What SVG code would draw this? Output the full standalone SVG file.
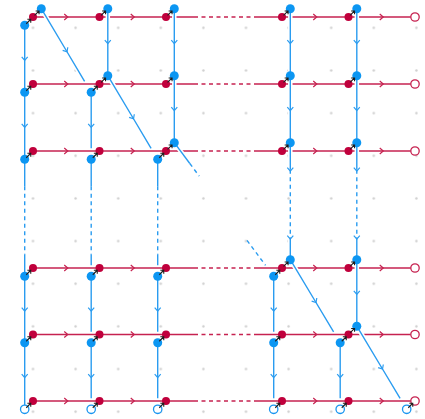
<svg xmlns="http://www.w3.org/2000/svg" xmlns:xlink="http://www.w3.org/1999/xlink" width="425" height="419" viewBox="0 0 425 419">
<style>
.rl{stroke:#c62250;stroke-width:1.4;fill:none}
.bl{stroke:#2a9cf0;stroke-width:1.4;fill:none}
.rm{marker-mid:url(#chr)}
.bm{marker-mid:url(#chb)}
.ds{stroke-dasharray:4 3.5}
.cas{stroke:#fff;stroke-width:4.5;fill:none;marker-mid:none}
.blu{stroke:#2a9cf0;stroke-width:1.4;fill:none;marker-mid:url(#chb)}
.rn{fill:#c0003c}
.bn{fill:#0c96f2}
.ro{fill:#fff;stroke:#c62250;stroke-width:1.3}
.bo{fill:#fff;stroke:#1a96f0;stroke-width:1.3}
.ar{stroke:#1e1e1e;stroke-width:1.1;fill:none}
</style>
<defs>
<pattern id="dots" patternUnits="userSpaceOnUse" x="11.7" y="6.5" width="42.6" height="42.65">
<circle cx="21.3" cy="21.3" r="1.2" fill="#cfcfcf"/>
</pattern>
<marker id="chr" markerUnits="userSpaceOnUse" orient="auto" overflow="visible" markerWidth="8" markerHeight="8">
<path d="M-2,-3 L1.5,0 L-2,3" fill="none" stroke="#c62250" stroke-width="1.2"/>
</marker>
<marker id="chb" markerUnits="userSpaceOnUse" orient="auto" overflow="visible" markerWidth="8" markerHeight="8">
<path d="M-2,-3 L1.5,0 L-2,3" fill="none" stroke="#2a9cf0" stroke-width="1.2"/>
</marker>
<path id="ar" d="M-2.6,2.6 L1.9,-1.9 M-1.5,-1.9 H1.9 V1.5"/>
<g id="urlines">
<polyline points="107.8,8.7 107.8,42.2 107.8,75.7"/>
<polyline points="174.3,8.7 174.3,42.2 174.3,75.7"/>
<polyline points="174.3,75.7 174.3,109.2 174.3,142.7"/>
<polyline points="290.3,8.7 290.3,42.2 290.3,75.7"/>
<polyline points="290.3,75.7 290.3,109.2 290.3,142.7"/>
<polyline points="356.8,8.7 356.8,42.2 356.8,75.7"/>
<polyline points="356.8,75.7 356.8,109.2 356.8,142.7"/>
<polyline points="356.8,259.7 356.8,292.95 356.8,326.2"/>
<polyline points="41.3,8.7 66.25,50.5 84.6,81.3"/>
<polyline points="107.8,75.7 132.75,117.5 151.1,148.3"/>
<polyline points="290.3,259.7 315.25,301.25 333.6,331.8"/>
<polyline points="356.8,326.2 381.75,367.75 400.1,398.3"/>
<path d="M174.3,142.7 L189.8,163.5"/>
<path d="M290.3,142.7 V169.7 M290.3,237.7 V259.7"/>
<path d="M356.8,142.7 V169.7 M356.8,237.7 V259.7"/>
</g>
</defs>
<rect x="0" y="0" width="425" height="419" fill="#fff"/>
<rect x="0" y="0" width="425" height="419" fill="url(#dots)"/>

<g id="connectors">
<g id="red-lines">
<polyline class="rl rm" points="33,17 66.25,17 99.5,17"/>
<polyline class="rl rm" points="99.5,17 132.75,17 166,17"/>
<path class="rl" d="M166,17 H194 M257,17 H282"/>
<path class="rl ds" d="M194,17 H257"/>
<polyline class="rl rm" points="282,17 315.25,17 348.5,17"/>
<polyline class="rl rm" points="348.5,17 381.75,17 410.8,17"/>

<polyline class="rl rm" points="33,84 66.25,84 99.5,84"/>
<polyline class="rl rm" points="99.5,84 132.75,84 166,84"/>
<path class="rl" d="M166,84 H194 M257,84 H282"/>
<path class="rl ds" d="M194,84 H257"/>
<polyline class="rl rm" points="282,84 315.25,84 348.5,84"/>
<polyline class="rl rm" points="348.5,84 381.75,84 410.8,84"/>

<polyline class="rl rm" points="33,151 66.25,151 99.5,151"/>
<polyline class="rl rm" points="99.5,151 132.75,151 166,151"/>
<path class="rl" d="M166,151 H194 M257,151 H282"/>
<path class="rl ds" d="M194,151 H257"/>
<polyline class="rl rm" points="282,151 315.25,151 348.5,151"/>
<polyline class="rl rm" points="348.5,151 381.75,151 410.8,151"/>

<polyline class="rl rm" points="33,268 66.25,268 99.5,268"/>
<polyline class="rl rm" points="99.5,268 132.75,268 166,268"/>
<path class="rl" d="M166,268 H194 M257,268 H282"/>
<path class="rl ds" d="M194,268 H257"/>
<polyline class="rl rm" points="282,268 315.25,268 348.5,268"/>
<polyline class="rl rm" points="348.5,268 381.75,268 410.8,268"/>

<polyline class="rl rm" points="33,334.5 66.25,334.5 99.5,334.5"/>
<polyline class="rl rm" points="99.5,334.5 132.75,334.5 166,334.5"/>
<path class="rl" d="M166,334.5 H194 M257,334.5 H282"/>
<path class="rl ds" d="M194,334.5 H257"/>
<polyline class="rl rm" points="282,334.5 315.25,334.5 348.5,334.5"/>
<polyline class="rl rm" points="348.5,334.5 381.75,334.5 410.8,334.5"/>

<polyline class="rl rm" points="33,401 66.25,401 99.5,401"/>
<polyline class="rl rm" points="99.5,401 132.75,401 166,401"/>
<path class="rl" d="M166,401 H194 M257,401 H282"/>
<path class="rl ds" d="M194,401 H257"/>
<polyline class="rl rm" points="282,401 315.25,401 348.5,401"/>
<polyline class="rl rm" points="348.5,401 381.75,401 410.8,401"/>
</g>

<g id="blue-lines">
<use xlink:href="#urlines" href="#urlines" class="cas"/>
<use xlink:href="#urlines" href="#urlines" class="blu"/>
<path class="bl ds" d="M189.8,163.5 L199.2,176.1 M247,240.4 L265.5,265.3"/>
<path class="bl ds" d="M290.3,169.7 V237.7 M356.8,169.7 V237.7"/>

<polyline class="bl bm" points="24.7,25.3 24.7,58.8 24.7,92.3"/>
<polyline class="bl bm" points="24.7,92.3 24.7,125.8 24.7,159.3"/>
<path class="bl" d="M24.7,159.3 V186.3 M24.7,254.3 V276.3"/>
<path class="bl ds" d="M24.7,186.3 V254.3"/>
<polyline class="bl bm" points="24.7,276.3 24.7,309.55 24.7,342.8"/>
<polyline class="bl bm" points="24.7,342.8 24.7,376.05 24.7,405"/>

<polyline class="bl bm" points="91.2,92.3 91.2,125.8 91.2,148.3"/>
<path class="bl" d="M91.2,159.3 V186.3 M91.2,254.3 V265.3"/>
<path class="bl ds" d="M91.2,186.3 V254.3"/>
<polyline class="bl bm" points="91.2,276.3 91.2,309.55 91.2,331.8"/>
<polyline class="bl bm" points="91.2,342.8 91.2,376.05 91.2,398.3"/>

<path class="bl" d="M157.7,159.3 V186.3 M157.7,254.3 V265.3"/>
<path class="bl ds" d="M157.7,186.3 V254.3"/>
<polyline class="bl bm" points="157.7,276.3 157.7,309.55 157.7,331.8"/>
<polyline class="bl bm" points="157.7,342.8 157.7,376.05 157.7,398.3"/>

<polyline class="bl bm" points="273.7,276.3 273.7,309.55 273.7,331.8"/>
<polyline class="bl bm" points="273.7,342.8 273.7,376.05 273.7,398.3"/>

<polyline class="bl bm" points="340.2,342.8 340.2,376.05 340.2,398.3"/>
</g>
</g>

<g id="red-nodes">
<g id="r00"><circle class="rn" cx="33" cy="17" r="4"/></g>
<g id="r10"><circle class="rn" cx="99.5" cy="17" r="4"/></g>
<g id="r20"><circle class="rn" cx="166" cy="17" r="4"/></g>
<g id="r30"><circle class="rn" cx="282" cy="17" r="4"/></g>
<g id="r40"><circle class="rn" cx="348.5" cy="17" r="4"/></g>
<g id="ro0"><circle class="ro" cx="415" cy="17" r="4.2"/></g>
<g id="r01"><circle class="rn" cx="33" cy="84" r="4"/></g>
<g id="r11"><circle class="rn" cx="99.5" cy="84" r="4"/></g>
<g id="r21"><circle class="rn" cx="166" cy="84" r="4"/></g>
<g id="r31"><circle class="rn" cx="282" cy="84" r="4"/></g>
<g id="r41"><circle class="rn" cx="348.5" cy="84" r="4"/></g>
<g id="ro1"><circle class="ro" cx="415" cy="84" r="4.2"/></g>
<g id="r02"><circle class="rn" cx="33" cy="151" r="4"/></g>
<g id="r12"><circle class="rn" cx="99.5" cy="151" r="4"/></g>
<g id="r22"><circle class="rn" cx="166" cy="151" r="4"/></g>
<g id="r32"><circle class="rn" cx="282" cy="151" r="4"/></g>
<g id="r42"><circle class="rn" cx="348.5" cy="151" r="4"/></g>
<g id="ro2"><circle class="ro" cx="415" cy="151" r="4.2"/></g>
<g id="r03"><circle class="rn" cx="33" cy="268" r="4"/></g>
<g id="r13"><circle class="rn" cx="99.5" cy="268" r="4"/></g>
<g id="r23"><circle class="rn" cx="166" cy="268" r="4"/></g>
<g id="r33"><circle class="rn" cx="282" cy="268" r="4"/></g>
<g id="r43"><circle class="rn" cx="348.5" cy="268" r="4"/></g>
<g id="ro3"><circle class="ro" cx="415" cy="268" r="4.2"/></g>
<g id="r04"><circle class="rn" cx="33" cy="334.5" r="4"/></g>
<g id="r14"><circle class="rn" cx="99.5" cy="334.5" r="4"/></g>
<g id="r24"><circle class="rn" cx="166" cy="334.5" r="4"/></g>
<g id="r34"><circle class="rn" cx="282" cy="334.5" r="4"/></g>
<g id="r44"><circle class="rn" cx="348.5" cy="334.5" r="4"/></g>
<g id="ro4"><circle class="ro" cx="415" cy="334.5" r="4.2"/></g>
<g id="r05"><circle class="rn" cx="33" cy="401" r="4"/></g>
<g id="r15"><circle class="rn" cx="99.5" cy="401" r="4"/></g>
<g id="r25"><circle class="rn" cx="166" cy="401" r="4"/></g>
<g id="r35"><circle class="rn" cx="282" cy="401" r="4"/></g>
<g id="r45"><circle class="rn" cx="348.5" cy="401" r="4"/></g>
<g id="ro5"><circle class="ro" cx="415" cy="401" r="4.2"/></g>
</g>

<g id="blue-nodes">
<g id="bu00"><circle class="bn" cx="41.3" cy="8.7" r="4.5"/></g>
<g id="bu10"><circle class="bn" cx="107.8" cy="8.7" r="4.5"/></g>
<g id="bu20"><circle class="bn" cx="174.3" cy="8.7" r="4.5"/></g>
<g id="bu30"><circle class="bn" cx="290.3" cy="8.7" r="4.5"/></g>
<g id="bu40"><circle class="bn" cx="356.8" cy="8.7" r="4.5"/></g>
<g id="bu11"><circle class="bn" cx="107.8" cy="75.7" r="4.5"/></g>
<g id="bu21"><circle class="bn" cx="174.3" cy="75.7" r="4.5"/></g>
<g id="bu31"><circle class="bn" cx="290.3" cy="75.7" r="4.5"/></g>
<g id="bu41"><circle class="bn" cx="356.8" cy="75.7" r="4.5"/></g>
<g id="bu22"><circle class="bn" cx="174.3" cy="142.7" r="4.5"/></g>
<g id="bu32"><circle class="bn" cx="290.3" cy="142.7" r="4.5"/></g>
<g id="bu42"><circle class="bn" cx="356.8" cy="142.7" r="4.5"/></g>
<g id="bu33"><circle class="bn" cx="290.3" cy="259.7" r="4.5"/></g>
<g id="bu43"><circle class="bn" cx="356.8" cy="259.7" r="4.5"/></g>
<g id="bu44"><circle class="bn" cx="356.8" cy="326.2" r="4.5"/></g>

<g id="bl00"><circle class="bn" cx="24.7" cy="25.3" r="4.5"/></g>
<g id="bl01"><circle class="bn" cx="24.7" cy="92.3" r="4.5"/></g>
<g id="bl11"><circle class="bn" cx="91.2" cy="92.3" r="4.5"/></g>
<g id="bl02"><circle class="bn" cx="24.7" cy="159.3" r="4.5"/></g>
<g id="bl12"><circle class="bn" cx="91.2" cy="159.3" r="4.5"/></g>
<g id="bl22"><circle class="bn" cx="157.7" cy="159.3" r="4.5"/></g>
<g id="bl03"><circle class="bn" cx="24.7" cy="276.3" r="4.5"/></g>
<g id="bl13"><circle class="bn" cx="91.2" cy="276.3" r="4.5"/></g>
<g id="bl23"><circle class="bn" cx="157.7" cy="276.3" r="4.5"/></g>
<g id="bl33"><circle class="bn" cx="273.7" cy="276.3" r="4.5"/></g>
<g id="bl04"><circle class="bn" cx="24.7" cy="342.8" r="4.5"/></g>
<g id="bl14"><circle class="bn" cx="91.2" cy="342.8" r="4.5"/></g>
<g id="bl24"><circle class="bn" cx="157.7" cy="342.8" r="4.5"/></g>
<g id="bl34"><circle class="bn" cx="273.7" cy="342.8" r="4.5"/></g>
<g id="bl44"><circle class="bn" cx="340.2" cy="342.8" r="4.5"/></g>

<g id="bo0"><circle class="bo" cx="24.7" cy="409.3" r="4.2"/></g>
<g id="bo1"><circle class="bo" cx="91.2" cy="409.3" r="4.2"/></g>
<g id="bo2"><circle class="bo" cx="157.7" cy="409.3" r="4.2"/></g>
<g id="bo3"><circle class="bo" cx="273.7" cy="409.3" r="4.2"/></g>
<g id="bo4"><circle class="bo" cx="340.2" cy="409.3" r="4.2"/></g>
<g id="bo5"><circle class="bo" cx="406.7" cy="409.3" r="4.2"/></g>
</g>

<g id="pair-arrows" class="ar">
<use href="#ar" xlink:href="#ar" x="37.15" y="12.85"/>
<use href="#ar" xlink:href="#ar" x="103.65" y="12.85"/>
<use href="#ar" xlink:href="#ar" x="170.15" y="12.85"/>
<use href="#ar" xlink:href="#ar" x="286.15" y="12.85"/>
<use href="#ar" xlink:href="#ar" x="352.65" y="12.85"/>
<use href="#ar" xlink:href="#ar" x="103.65" y="79.85"/>
<use href="#ar" xlink:href="#ar" x="170.15" y="79.85"/>
<use href="#ar" xlink:href="#ar" x="286.15" y="79.85"/>
<use href="#ar" xlink:href="#ar" x="352.65" y="79.85"/>
<use href="#ar" xlink:href="#ar" x="170.15" y="146.85"/>
<use href="#ar" xlink:href="#ar" x="286.15" y="146.85"/>
<use href="#ar" xlink:href="#ar" x="352.65" y="146.85"/>
<use href="#ar" xlink:href="#ar" x="286.15" y="263.85"/>
<use href="#ar" xlink:href="#ar" x="352.65" y="263.85"/>
<use href="#ar" xlink:href="#ar" x="352.65" y="330.35"/>

<use href="#ar" xlink:href="#ar" x="28.85" y="21.15"/>
<use href="#ar" xlink:href="#ar" x="28.85" y="88.15"/>
<use href="#ar" xlink:href="#ar" x="95.35" y="88.15"/>
<use href="#ar" xlink:href="#ar" x="28.85" y="155.15"/>
<use href="#ar" xlink:href="#ar" x="95.35" y="155.15"/>
<use href="#ar" xlink:href="#ar" x="161.85" y="155.15"/>
<use href="#ar" xlink:href="#ar" x="28.85" y="272.15"/>
<use href="#ar" xlink:href="#ar" x="95.35" y="272.15"/>
<use href="#ar" xlink:href="#ar" x="161.85" y="272.15"/>
<use href="#ar" xlink:href="#ar" x="277.85" y="272.15"/>
<use href="#ar" xlink:href="#ar" x="28.85" y="338.65"/>
<use href="#ar" xlink:href="#ar" x="95.35" y="338.65"/>
<use href="#ar" xlink:href="#ar" x="161.85" y="338.65"/>
<use href="#ar" xlink:href="#ar" x="277.85" y="338.65"/>
<use href="#ar" xlink:href="#ar" x="344.35" y="338.65"/>
<use href="#ar" xlink:href="#ar" x="28.85" y="405.15"/>
<use href="#ar" xlink:href="#ar" x="95.35" y="405.15"/>
<use href="#ar" xlink:href="#ar" x="161.85" y="405.15"/>
<use href="#ar" xlink:href="#ar" x="277.85" y="405.15"/>
<use href="#ar" xlink:href="#ar" x="344.35" y="405.15"/>
<use href="#ar" xlink:href="#ar" x="410.85" y="405.15"/>
</g>
</svg>
